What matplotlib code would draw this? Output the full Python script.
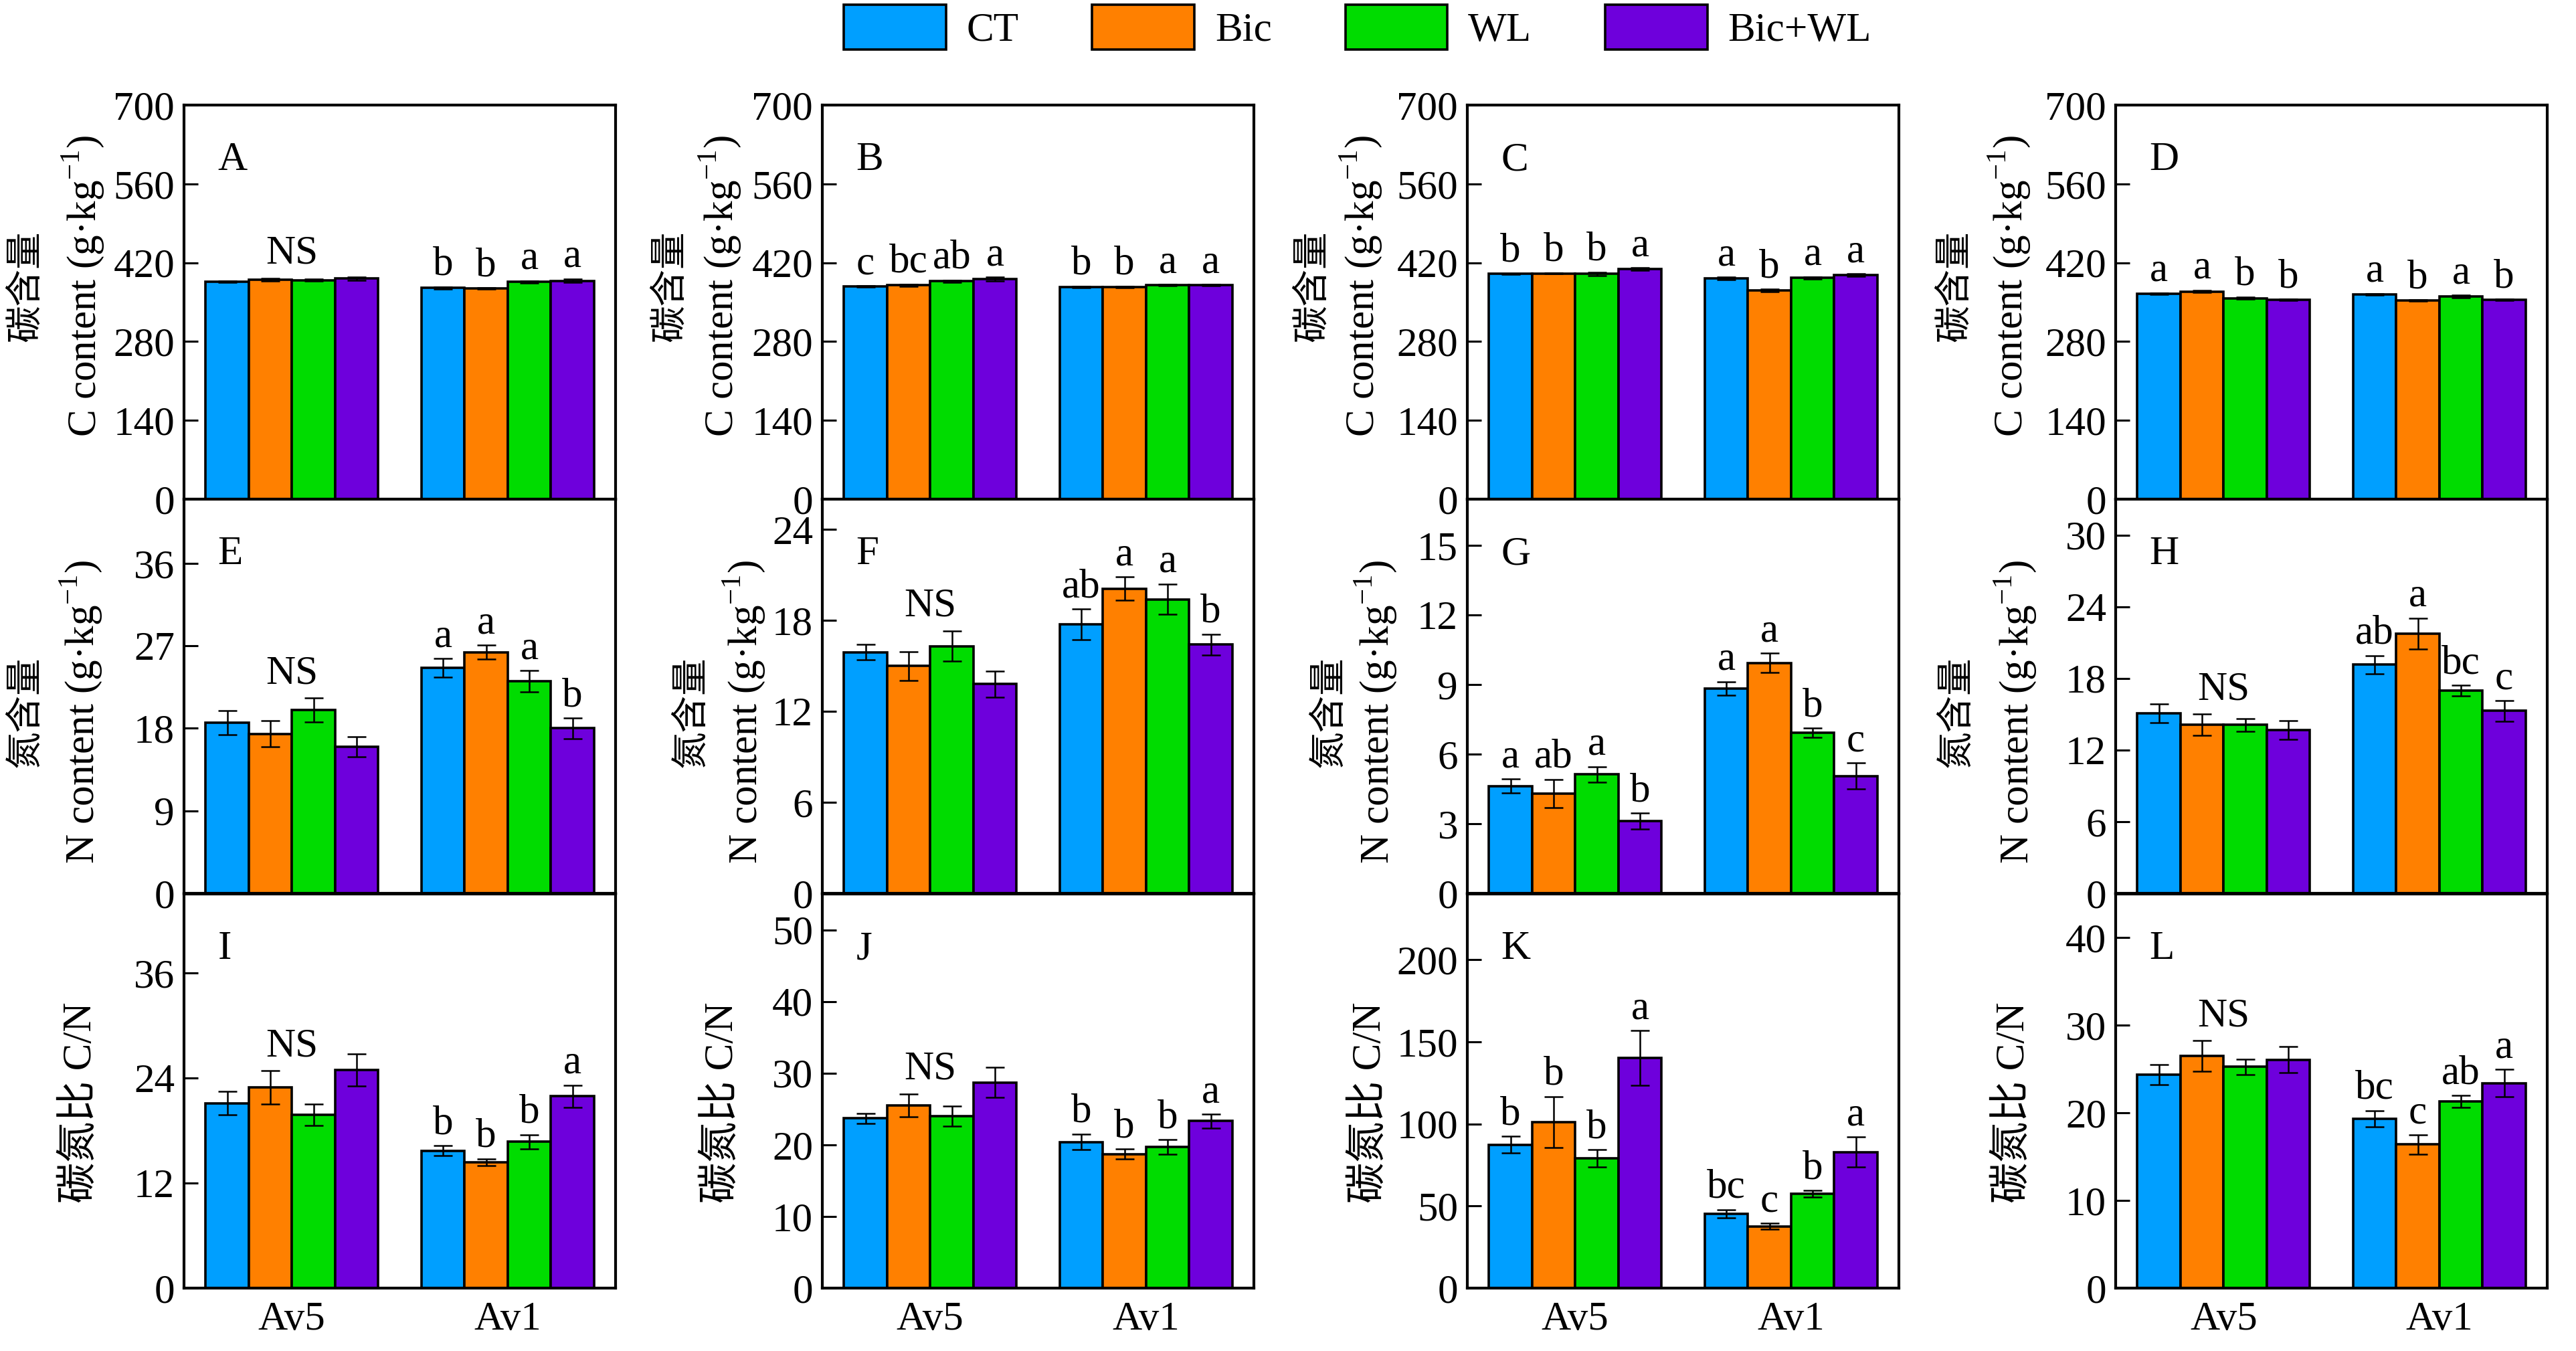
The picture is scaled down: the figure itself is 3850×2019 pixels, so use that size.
import matplotlib.pyplot as plt
import numpy as np

plt.rcParams['font.family'] = ['Liberation Serif', 'Noto Sans CJK SC']
plt.rcParams['mathtext.fontset'] = 'custom'
plt.rcParams['mathtext.rm'] = 'Liberation Serif'

# groups and treatments
sites = ['Av5', 'Av1']
treatments = ['CT', 'Bic', 'WL', 'Bic+WL']
colors = ['#009FFF', '#FF8000', '#00DC00', '#6E00DC']

# each row: Av5 (CT, Bic, WL, Bic+WL) then Av1 (CT, Bic, WL, Bic+WL)
# carbon content, panels A-D
c_mean = [
    [386, 390, 389, 392, 375, 374, 386, 388],
    [378, 380, 387, 391, 377, 377, 380, 380],
    [400, 401, 400, 409, 392, 371, 393, 398],
    [365, 369, 357, 354, 364, 353, 360, 354],
]
c_err = [
    [1, 2, 2, 3, 2, 1, 2, 3],
    [1, 2, 2, 3, 1, 1, 1, 1],
    [1, 1, 3, 2, 2, 2, 2, 2],
    [1, 2, 2, 1, 1, 1, 2, 1],
]
c_sig = [
    ('NS', ['b', 'b', 'a', 'a']),
    (['c', 'bc', 'ab', 'a'], ['b', 'b', 'a', 'a']),
    (['b', 'b', 'b', 'a'], ['a', 'b', 'a', 'a']),
    (['a', 'a', 'b', 'b'], ['a', 'b', 'a', 'b']),
]

# nitrogen content, panels E-H
n_mean = [
    [18.6, 17.4, 20.0, 16.0, 24.6, 26.3, 23.15, 18.0],
    [15.9, 15.0, 16.3, 13.8, 17.75, 20.1, 19.4, 16.4],
    [4.63, 4.3, 5.13, 3.11, 8.84, 9.94, 6.92, 5.06],
    [15.05, 14.1, 14.1, 13.66, 19.15, 21.74, 16.96, 15.27],
]
n_err = [
    [1.3, 1.4, 1.3, 1.1, 1.0, 0.75, 1.15, 1.1],
    [0.5, 0.95, 1.0, 0.85, 1.0, 0.77, 1.0, 0.7],
    [0.3, 0.62, 0.33, 0.34, 0.29, 0.41, 0.2, 0.56],
    [0.78, 0.9, 0.53, 0.8, 0.76, 1.3, 0.45, 0.85],
]
n_sig = [
    ('NS', ['a', 'a', 'a', 'b']),
    ('NS', ['ab', 'a', 'a', 'b']),
    (['a', 'ab', 'a', 'b'], ['a', 'a', 'b', 'c']),
    ('NS', ['ab', 'a', 'bc', 'c']),
]

# C/N ratio, panels I-L
cn_mean = [
    [21.1, 22.9, 19.8, 24.9, 15.7, 14.35, 16.7, 21.9],
    [23.7, 25.5, 24.0, 28.7, 20.4, 18.7, 19.7, 23.3],
    [87.3, 101, 79, 140, 45.3, 37.6, 57.3, 82.8],
    [24.36, 26.5, 25.27, 26.08, 19.35, 16.4, 21.3, 23.41],
]
cn_err = [
    [1.35, 1.9, 1.2, 1.85, 0.55, 0.4, 0.8, 1.25],
    [0.7, 1.6, 1.4, 2.1, 1.1, 0.7, 1.0, 0.95],
    [5, 15.6, 5.3, 16.7, 2.4, 1.8, 2.0, 9.1],
    [1.16, 1.74, 0.88, 1.5, 0.93, 1.09, 0.67, 1.54],
]
cn_sig = [
    ('NS', ['b', 'b', 'b', 'a']),
    ('NS', ['b', 'b', 'b', 'a']),
    (['b', 'b', 'b', 'a'], ['bc', 'c', 'b', 'a']),
    ('NS', ['bc', 'c', 'ab', 'a']),
]

panel_letters = ['ABCD', 'EFGH', 'IJKL']
ylims = [[700] * 4, [43, 26, 17, 33], [45, 55, 240, 45]]
ysteps = [[140] * 4, [9, 6, 3, 6], [12, 10, 50, 10]]
zh_labels = ['碳含量', '氮含量']
en_labels = ['C content (g·kg$^{-1}$)', 'N content (g·kg$^{-1}$)', '碳氮比 C/N']

# layout (pixels)
W, H = 3850, 2019
col_left = [275, 1229, 2193, 3162]
row_top = [157, 746, 1336]
ax_w, ax_h = 645, 589
en_off = [[151, 153, 159, 159], [154, 117, 137, 150], [155, 150, 146, 153]]
zh_off = [[237, 228, 232, 241], [237, 196, 207, 238]]
lab_y = [0.54, 0.46, 0.47]

FS = 44
offsets = [-0.3, -0.1, 0.1, 0.3]
x = np.arange(2)

fig = plt.figure(figsize=(W / 100, H / 100), dpi=100)

rows = [(c_mean, c_err, c_sig), (n_mean, n_err, n_sig), (cn_mean, cn_err, cn_sig)]
handles = None
for r, (means, errs, sigs) in enumerate(rows):
    for c in range(4):
        ax = fig.add_axes([col_left[c] / W, 1 - (row_top[r] + ax_h) / H, ax_w / W, ax_h / H])
        mean = means[c]
        err = errs[c]
        bars = []
        for k in range(4):
            b = ax.bar(x + offsets[k], [mean[k], mean[4 + k]], 0.2, color=colors[k],
                       edgecolor='black', linewidth=2.6,
                       yerr=[err[k], err[4 + k]],
                       error_kw=dict(ecolor='black', elinewidth=1.8, capsize=10, capthick=1.8))
            bars.append(b)
        if handles is None:
            handles = bars

        # significance letters
        for g in range(2):
            s = sigs[c][g]
            if s == 'NS':
                top = max(mean[4 * g + 1] + err[4 * g + 1], mean[4 * g + 2] + err[4 * g + 2])
                ax.annotate('NS', xy=(g, top), xytext=(0, 16), textcoords='offset points',
                            ha='center', va='baseline', fontsize=FS)
            else:
                for k in range(4):
                    i = 4 * g + k
                    ax.annotate(s[k], xy=(g + offsets[k], mean[i] + err[i]), xytext=(0, 13),
                                textcoords='offset points', ha='center', va='baseline', fontsize=FS)

        ax.set_xlim(-0.5, 1.5)
        ax.set_ylim(0, ylims[r][c])
        ax.set_yticks(np.arange(0, ylims[r][c] + 0.01, ysteps[r][c]))
        ax.tick_params(axis='y', direction='in', length=15, width=2.2, labelsize=FS, pad=10)
        ax.set_xticks(x)
        ax.set_xticklabels(sites)
        ax.tick_params(axis='x', length=0, labelsize=FS, pad=14, labelbottom=(r == 2))
        for sp in ax.spines.values():
            sp.set_linewidth(3)

        ax.text(0.078, 0.835, panel_letters[r][c], transform=ax.transAxes,
                fontsize=FS, va='baseline', ha='left')

        ax.text(-en_off[r][c] / ax_w, lab_y[r], en_labels[r], transform=ax.transAxes,
                rotation=90, ha='center', va='center', fontsize=FS)
        if r < 2:
            ax.text(-zh_off[r][c] / ax_w, lab_y[r], zh_labels[r], transform=ax.transAxes,
                    rotation=90, ha='center', va='center', fontsize=40,
                    family=['Noto Sans CJK SC', 'DejaVu Sans'])

fig.legend(handles, treatments, loc='center', bbox_to_anchor=(0.527, 0.98), ncol=4,
           frameon=False, fontsize=FS, handlelength=2.5, handleheight=1.3,
           handletextpad=0.5, columnspacing=1.8)

fig.savefig('out.png', dpi=100)
